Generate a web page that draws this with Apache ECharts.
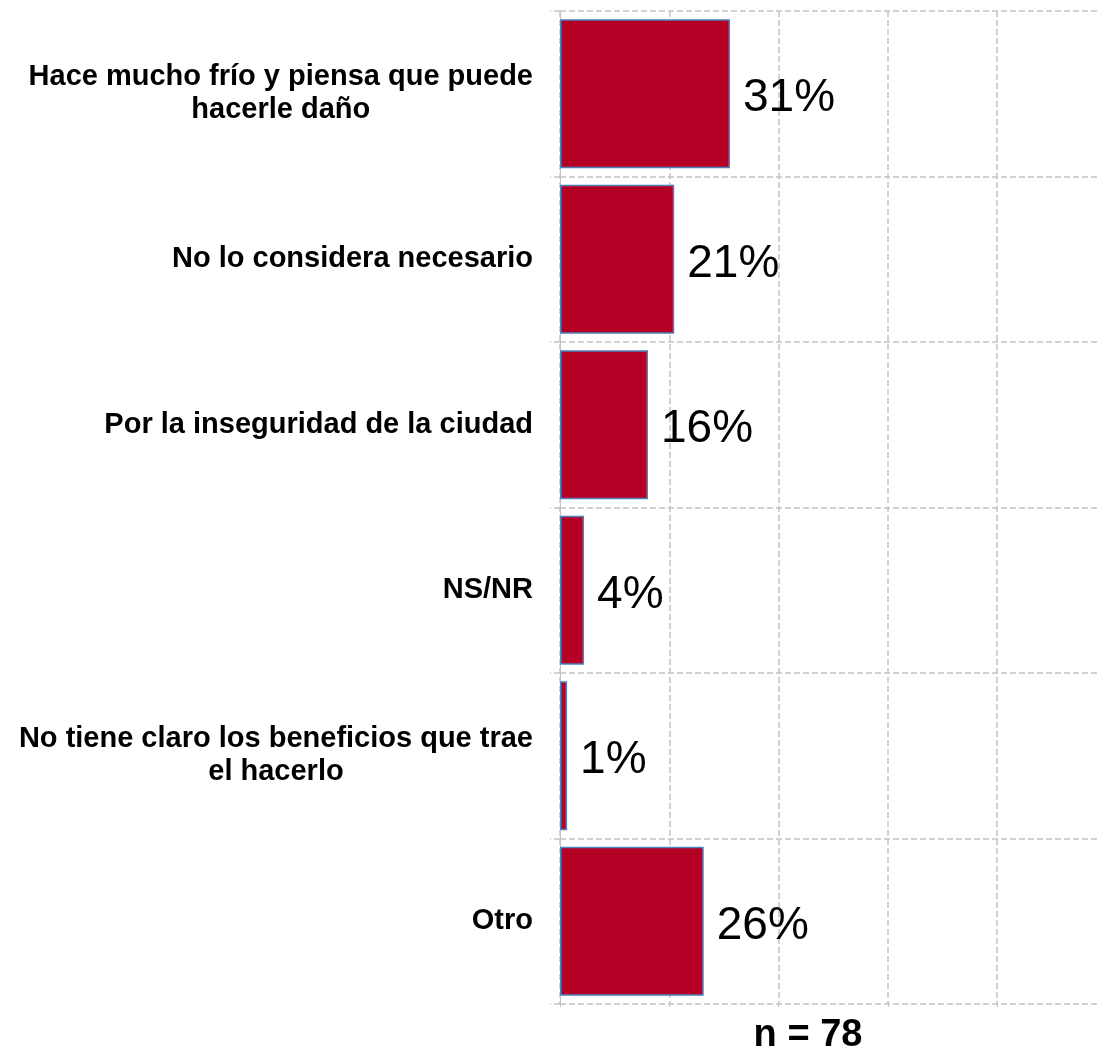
<!DOCTYPE html>
<html>
<head>
<meta charset="utf-8">
<style>
    html,body{margin:0;padding:0;background:#fff;}
    #main{width:1099px;height:1051px;}
</style>
</head>
<body>
<div id="main"></div>
<script src="https://cdn.jsdelivr.net/npm/echarts@6/dist/echarts.min.js"></script>
<script>
    var categories = [
        'Hace mucho frío y piensa que puede\nhacerle daño',
        'No lo considera necesario',
        'Por la inseguridad de la ciudad',
        'NS/NR',
        'No tiene claro los beneficios que trae\nel hacerlo',
        'Otro'
    ];
    var values = [31.1, 20.9, 16.1, 4.4, 1.3, 26.3];
    var valueLabels = ['31%', '21%', '16%', '4%', '1%', '26%'];
    var xTicks = [0, 20, 40, 60, 80, 100];
    var sampleNote = 'n = 78';

    var gridColor = '#c4c4c4';
    var myChart = echarts.init(document.getElementById('main'));
    var option = {
        backgroundColor: '#ffffff',
        animation: false,
        textStyle: { fontFamily: 'Liberation Sans, Arial, sans-serif' },
        grid: { left: 560, top: 11, width: 546.5, height: 993, containLabel: false, outerBoundsMode: 'none' },
        xAxis: {
            type: 'value',
            min: xTicks[0],
            max: xTicks[xTicks.length - 1],
            interval: 20,
            axisLine: { show: false },
            axisTick: { show: true, length: 3, lineStyle: { color: gridColor } },
            axisLabel: { show: false },
            splitLine: { show: true, lineStyle: { color: gridColor, width: 1.5, type: [6, 3] } }
        },
        yAxis: {
            type: 'category',
            inverse: true,
            data: categories,
            axisLine: { show: true, lineStyle: { color: gridColor, width: 1 } },
            axisTick: { show: true, length: 10, lineStyle: { color: gridColor, width: 1.5, type: [6, 3] } },
            splitLine: { show: true, lineStyle: { color: gridColor, width: 1.5, type: [6, 3] } },
            axisLabel: {
                margin: 27,
                formatter: function (v) {
                    return v.split('\n').map(function (s) { return '{c|' + s + '}'; }).join('\n');
                },
                rich: {
                    c: {
                        align: 'center',
                        fontSize: 29,
                        fontWeight: 'bold',
                        color: '#000',
                        lineHeight: 33,
                        fontFamily: 'Liberation Sans, Arial, sans-serif'
                    }
                }
            }
        },
        series: [
            {
                type: 'bar',
                data: values,
                barCategoryGap: '10%',
                itemStyle: { color: '#b40024', borderColor: '#4f81bd', borderWidth: 1.5 },
                label: {
                    show: true,
                    position: 'right',
                    distance: 13,
                    offset: [0, 5],
                    fontSize: 46,
                    color: '#000',
                    fontFamily: 'Liberation Sans, Arial, sans-serif',
                    formatter: function (p) { return valueLabels[p.dataIndex]; }
                }
            }
        ],
        graphic: [
            {
                type: 'text',
                x: 808,
                y: 1036,
                style: {
                    text: sampleNote,
                    fill: '#000',
                    font: 'bold 38px Liberation Sans, Arial, sans-serif',
                    textAlign: 'center',
                    textVerticalAlign: 'middle'
                }
            }
        ]
    };
    myChart.setOption(option);
</script>
</body>
</html>
